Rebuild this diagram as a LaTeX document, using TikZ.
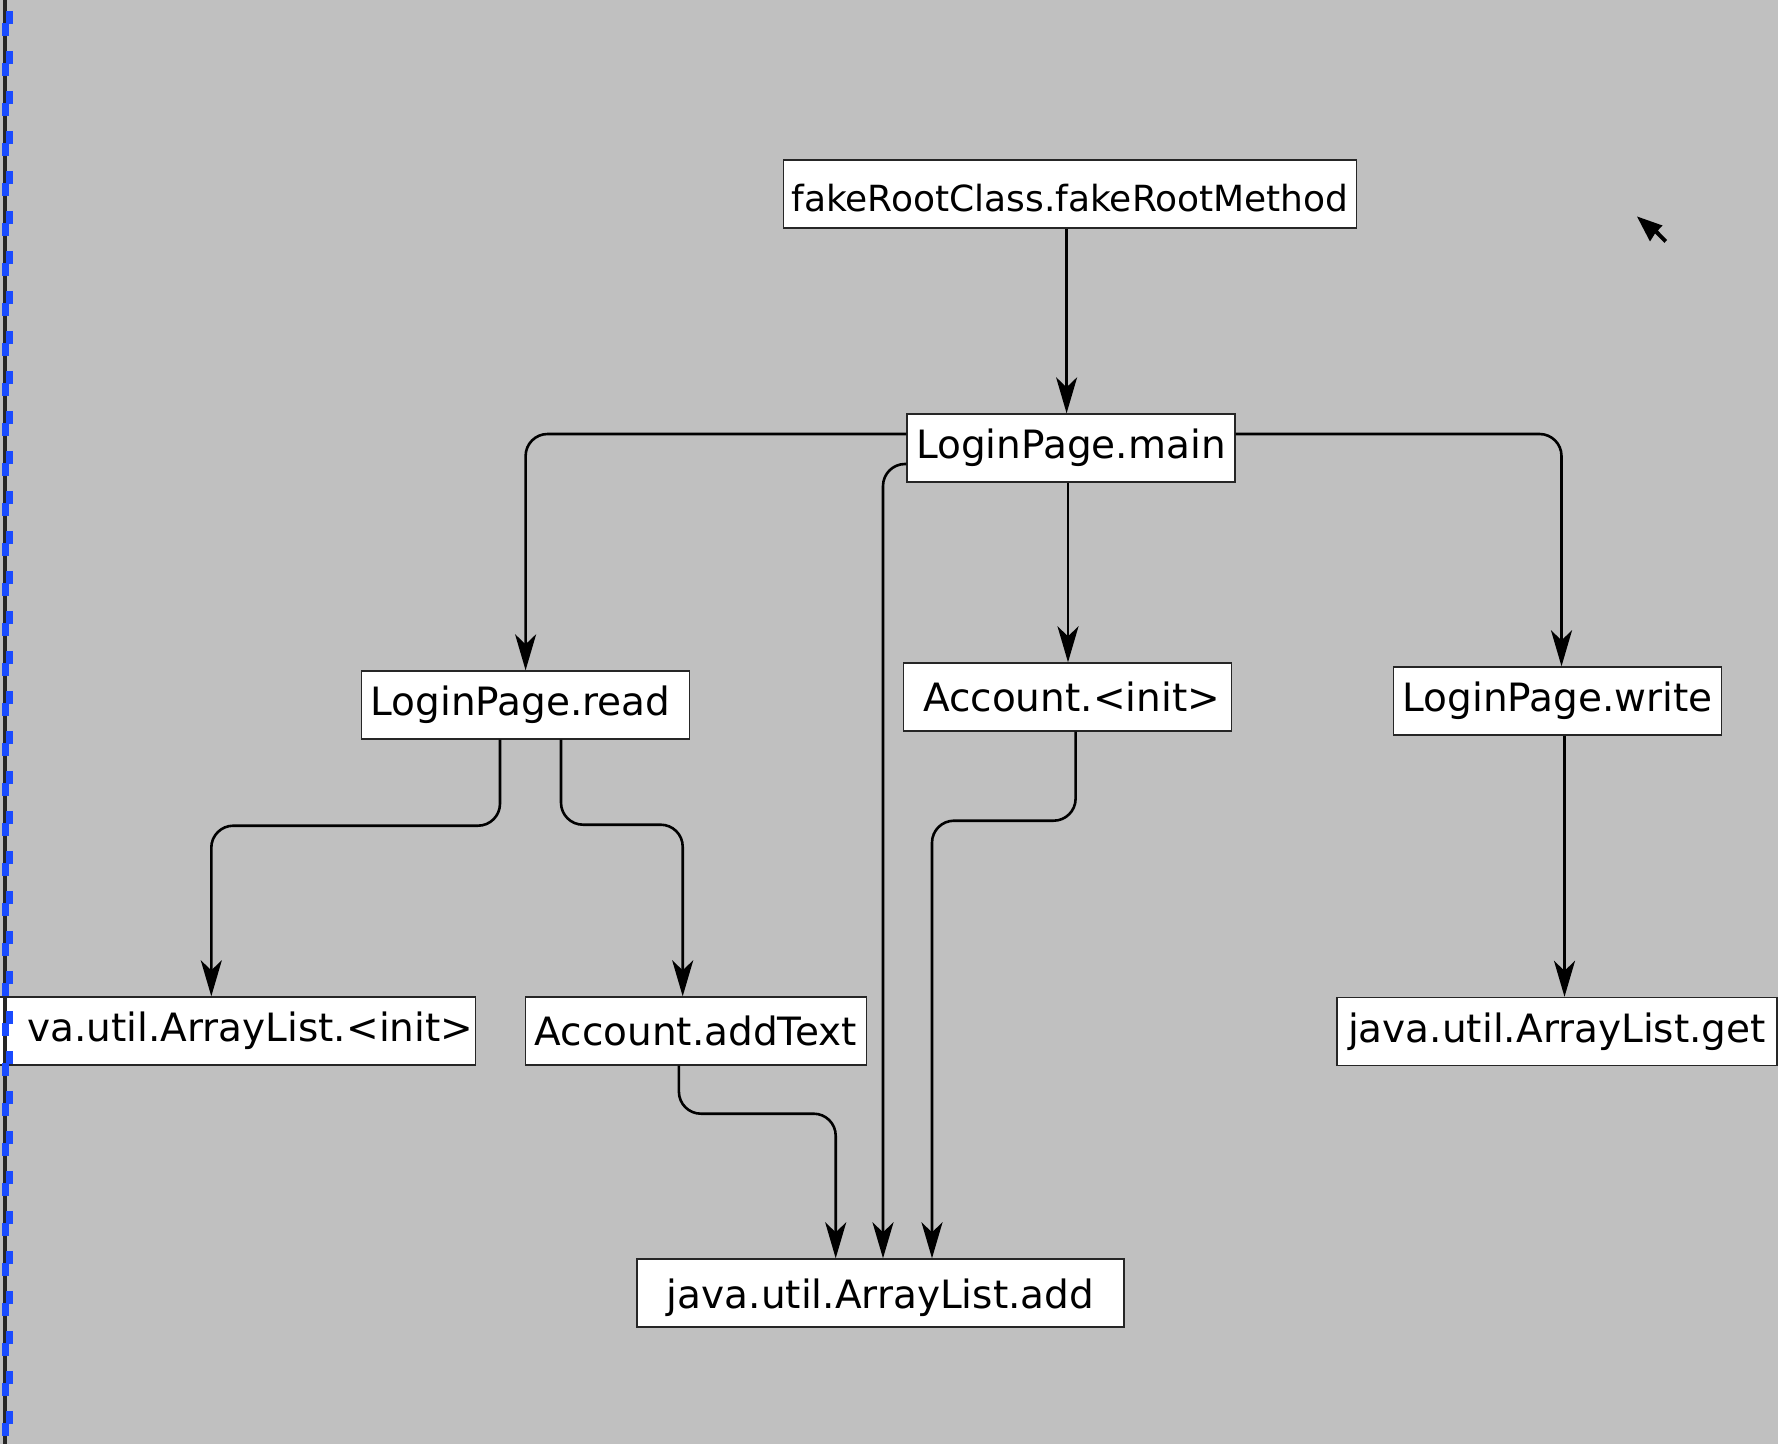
\documentclass[tikz,border=0pt]{standalone}
\usepackage{fontspec}
\setmainfont{DejaVu Sans}
\usetikzlibrary{arrows.meta,calc}
\definecolor{canvasgray}{HTML}{C0C0C0}
\definecolor{railblue}{HTML}{1A4BFF}
\definecolor{raildark}{HTML}{262626}

\begin{document}
\begin{tikzpicture}[x=0.5pt,y=-0.5pt,
  callbox/.style={draw=black!85, fill=white, line width=0.7pt, minimum height=34pt, inner sep=0pt, font=\fontsize{19.5}{23}\selectfont},
  callarrow/.style={-{Stealth[length=18pt,width=10.5pt,inset=5pt]}, line width=1.3pt, rounded corners=11pt}]
\useasboundingbox (0,0) rectangle (1778,1444);
\fill[canvasgray] (0,0) rectangle (1778,1444);

\node[callbox, minimum width=286.5pt, text height=18pt, text depth=0pt, font=\fontsize{18}{22}\selectfont] (root) at (1070,194) {fakeRootClass.fakeRootMethod};
\node[callbox, minimum width=164pt] (main) at (1071,448) {LoginPage.main};
\node[callbox, minimum width=164pt] (read) at (525.6,705) {\hspace*{-5pt}LoginPage.read};
\node[callbox, minimum width=164pt] (acct) at (1067.6,697) {\hspace*{4pt}Account.<init>};
\node[callbox, minimum width=164pt] (write) at (1557.5,701) {LoginPage.write};
\node[callbox, text width=250pt, align=right, inner xsep=1pt, anchor=east] (init) at (476,1031) {va.util.ArrayList.<init>};
\node[callbox, minimum width=170.5pt] (addtext) at (695.7,1031) {Account.addText};
\node[callbox, minimum width=220pt] (get) at (1557,1031.5) {java.util.ArrayList.get};
\node[callbox, minimum width=243.5pt, text height=20.4pt, text depth=4.6pt] (add) at (880.5,1293) {java.util.ArrayList.add};

\draw[callarrow] ([xshift=-1.7pt]root.south) -- ([xshift=-1.7pt]root.south |- main.north);
\draw[callarrow] ([yshift=7pt]main.west) -| (read.north);
\draw[callarrow] ([yshift=-8pt]main.west) -| ([xshift=1.25pt]add.north);
\draw[callarrow] ([xshift=-1.5pt]main.south) -- ([xshift=-1.5pt]main.south |- acct.north);
\draw[callarrow] ([yshift=7pt]main.east) -| ([xshift=2pt]write.north);
\draw[callarrow] ([xshift=-12.8pt]read.south) -- ++(0,86) -| ([xshift=-6pt]init.north);
\draw[callarrow] ([xshift=17.7pt]read.south) -- ++(0,85) -| ([xshift=-6.5pt]addtext.north);
\draw[callarrow] ([xshift=4pt]acct.south) -- ++(0,89) -| ([xshift=25.75pt]add.north);
\draw[callarrow] ([xshift=-8.4pt]addtext.south) -- ++(0,48) -| ([xshift=-22.4pt]add.north);
\draw[callarrow] ([xshift=3.5pt]write.south) -- ([xshift=3.5pt]write.south |- get.north);

\fill (1637,216.5) -- (1662.5,225.5) -- (1657.8,230.5) -- (1667,240) -- (1664.5,242.8) -- (1655,233.5) -- (1650,241.5) -- cycle;

\fill[raildark] (2.7,0) rectangle (7.3,1444);
\foreach \k in {0,...,36} {
  \fill[railblue] (6,11+40*\k) rectangle (12.7,24+40*\k);
  \fill[railblue] (2.3,23+40*\k) rectangle (9,36+40*\k);
}
\end{tikzpicture}
\end{document}
